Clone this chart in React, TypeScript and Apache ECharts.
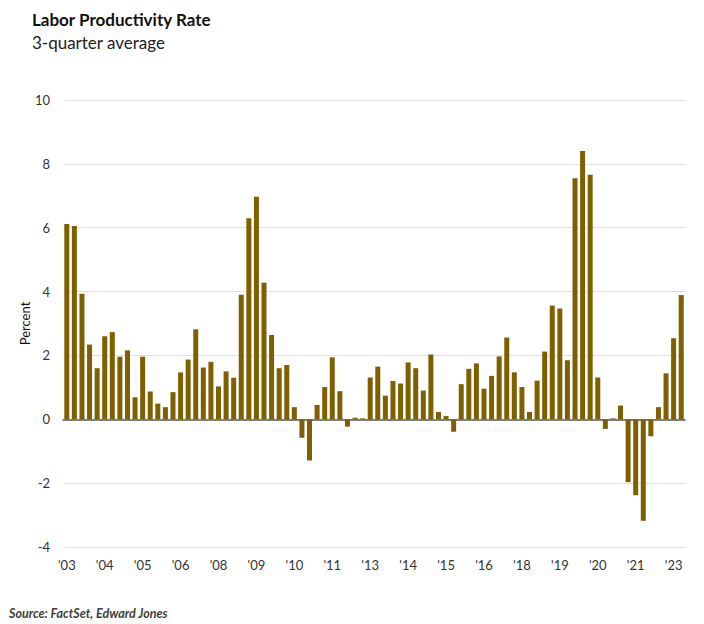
import React, { useEffect, useRef } from "react";
import * as echarts from "echarts";

const titleText = "Labor Productivity Rate";
const subtitleText = "3-quarter average";
const sourceText = "Source: FactSet, Edward Jones";
const yAxisName = "Percent";

const startYear = 2003;
// quarterly values, 2003 Q1 .. 2023 Q2
const values: number[] = [
  6.12, 6.05, 3.93, 2.34, 1.6, 2.6, 2.73, 1.96, 2.16, 0.69,
  1.96, 0.87, 0.49, 0.38, 0.85, 1.47, 1.87, 2.82, 1.62, 1.8,
  1.03, 1.5, 1.3, 3.9, 6.3, 6.97, 4.28, 2.64, 1.6, 1.7,
  0.38, -0.58, -1.29, 0.45, 1.01, 1.94, 0.88, -0.23, 0.05, 0.03,
  1.31, 1.65, 0.74, 1.2, 1.12, 1.78, 1.6, 0.9, 2.03, 0.23,
  0.1, -0.39, 1.1, 1.58, 1.75, 0.96, 1.36, 1.97, 2.56, 1.47,
  1.01, 0.23, 1.21, 2.12, 3.56, 3.47, 1.85, 7.55, 8.4, 7.66,
  1.31, -0.3, 0.03, 0.43, -1.97, -2.38, -3.18, -0.53, 0.38, 1.44,
  2.54, 3.89,
];

const categories: string[] = values.map((_, i) => {
  const y = startYear + Math.floor(i / 4);
  return `${y}Q${(i % 4) + 1}`;
});

const yTicks = { min: -4, max: 10, interval: 2 };

export default function App() {
  const ref = useRef<HTMLDivElement>(null);
  useEffect(() => {
    if (!ref.current) return;
    const chart = echarts.init(ref.current, undefined, { renderer: "svg" });
    chart.setOption({
      animation: false,
      backgroundColor: "#ffffff",
      textStyle: { fontFamily: "Lato, 'Open Sans', sans-serif" },
      graphic: [
        {
          type: "text",
          left: 32,
          top: 11,
          style: { text: titleText, font: "bold 17px Lato, sans-serif", fill: "#111111" },
        },
        {
          type: "text",
          left: 32,
          top: 34,
          style: { text: subtitleText, font: "17px Lato, sans-serif", fill: "#222222" },
        },
        {
          type: "text",
          left: 9,
          top: 607,
          style: { text: sourceText, font: "italic bold 12.5px Lato, sans-serif", fill: "#404040" },
        },
      ],
      grid: { left: 63, right: 19, top: 100, height: 447, containLabel: false },
      xAxis: {
        type: "category",
        data: categories,
        boundaryGap: true,
        axisTick: { show: false },
        axisLine: { show: true, onZero: true, lineStyle: { color: "#595959", width: 1.5 } },
        axisLabel: {
          interval: 4,
          color: "#333333",
          fontSize: 13,
          margin: 11,
          formatter: (v: string) => "'" + v.slice(2, 4),
        },
        position: "bottom",
      },
      yAxis: {
        type: "value",
        min: yTicks.min,
        max: yTicks.max,
        interval: yTicks.interval,
        name: yAxisName,
        nameLocation: "middle",
        nameGap: 32,
        nameMoveOverlap: false,
        nameRotate: 90,
        nameTextStyle: { color: "#111111", fontSize: 13 },
        axisLabel: { color: "#333333", fontSize: 13, margin: 13 },
        axisLine: { show: false },
        axisTick: { show: false },
        splitLine: { lineStyle: { color: "#e0e0e0", width: 1 } },
      },
      series: [
        {
          type: "bar",
          data: values,
          barWidth: "66%",
          itemStyle: { color: "#7F6000" },
        },
      ],
    });
    return () => chart.dispose();
  }, []);
  return (
    <div
      ref={ref}
      style={{ position: "fixed", left: 0, top: 0, width: 704, height: 624 }}
    />
  );
}
